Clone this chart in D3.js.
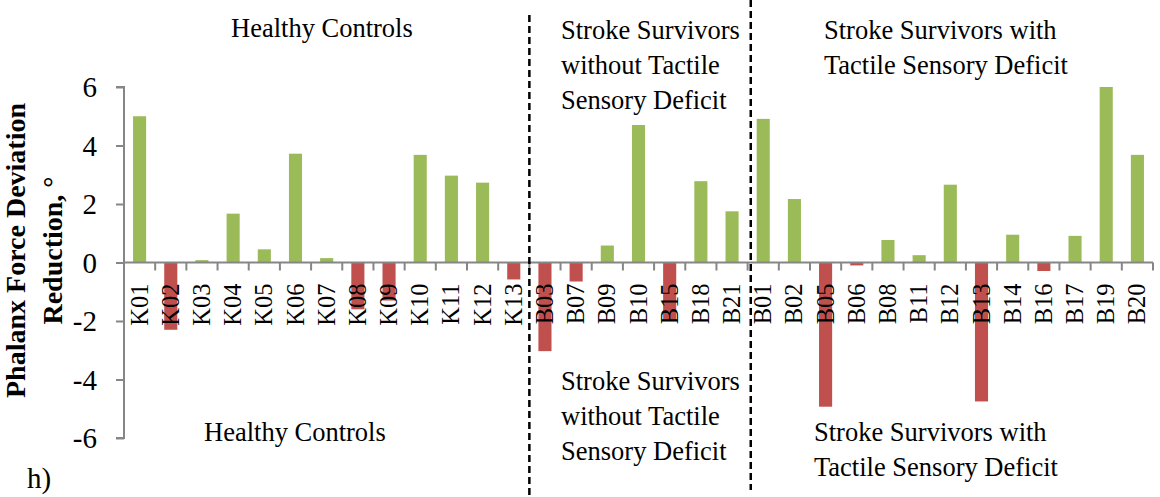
<!DOCTYPE html>
<html>
<head>
<meta charset="utf-8">
<script src="https://cdn.jsdelivr.net/npm/d3@7"></script>
<style>
  body { margin: 0; background: #fff; }
  svg text { font-family: "Liberation Serif", "Times New Roman", serif; }
</style>
</head>
<body>
<div id="chart"></div>
<script>
// participants, in plot order
const subjects = ['K01', 'K02', 'K03', 'K04', 'K05', 'K06', 'K07', 'K08', 'K09', 'K10', 'K11', 'K12', 'K13',
	'B03', 'B07', 'B09', 'B10', 'B15', 'B18', 'B21',
	'B01', 'B02', 'B05', 'B06', 'B08', 'B11', 'B12', 'B13', 'B14', 'B16', 'B17', 'B19', 'B20'];

// phalanx force deviation reduction (degrees)
const reduction = [5.0, -2.3, 0.08, 1.67, 0.45, 3.72, 0.15, -1.6, -1.3, 3.68, 2.97, 2.73, -0.58,
	-3.03, -0.65, 0.58, 4.7, -1.97, 2.78, 1.75,
	4.91, 2.17, -4.93, -0.1, 0.77, 0.25, 2.66, -4.75, 0.95, -0.29, 0.91, 6.0, 3.68];

const yTicks = [-6, -4, -2, 0, 2, 4, 6];

// group dividers, in band units from the left
const dividers = [13, 20.1];

// group captions
const groupTop = [
	{ lines: ['Healthy Controls'], x: 231, y: 37 },
	{ lines: ['Stroke Survivors', 'without Tactile', 'Sensory Deficit'], x: 561, y: 39 },
	{ lines: ['Stroke Survivors with', 'Tactile Sensory Deficit'], x: 824, y: 39 }
];
const groupBottom = [
	{ lines: ['Healthy Controls'], x: 204, y: 441 },
	{ lines: ['Stroke Survivors', 'without Tactile', 'Sensory Deficit'], x: 561, y: 390 },
	{ lines: ['Stroke Survivors with', 'Tactile Sensory Deficit'], x: 814, y: 441 }
];

const W = 1160, H = 497;
const margin = { top: 87, right: 7, bottom: 59, left: 124 };

const svg = d3.select('#chart').append('svg')
	.attr('width', W)
	.attr('height', H);

const x = d3.scaleBand()
	.domain(subjects)
	.range([margin.left, W - margin.right])
	.padding(0);

const y = d3.scaleLinear()
	.domain([-6, 6])
	.range([H - margin.bottom, margin.top]);

const axisColor = '#868686';

// bars
const barW = x.step() * 0.42;
svg.append('g')
	.selectAll('rect')
	.data(subjects)
	.join('rect')
	.attr('x', (d) => x(d) + (x.step() - barW) / 2)
	.attr('width', barW)
	.attr('y', (d, i) => y(Math.max(0, reduction[i])))
	.attr('height', (d, i) => Math.abs(y(reduction[i]) - y(0)))
	.attr('fill', (d, i) => (reduction[i] >= 0 ? '#9BBB59' : '#C0504D'));

// y axis
const yAxis = svg.append('g')
	.attr('transform', `translate(${margin.left},0)`)
	.call(d3.axisLeft(y).tickValues(yTicks).tickSize(8).tickPadding(19).tickFormat(d3.format('d')));
yAxis.select('.domain').attr('stroke', axisColor).attr('stroke-width', 2)
	.attr('d', `M-8,${y(6)}H0V${y(-6)}H-8`);
yAxis.selectAll('.tick line').attr('stroke', axisColor).attr('stroke-width', 2);
yAxis.selectAll('.tick text')
	.attr('font-family', '"Liberation Serif", serif')
	.attr('font-size', 29)
	.attr('fill', '#000')
	.attr('dy', '0.34em')
	.text((d) => (d < 0 ? '-' + Math.abs(d) : d));

// x axis at zero with ticks between categories
const xAxis = svg.append('g').attr('transform', `translate(0,${y(0)})`);
xAxis.append('line')
	.attr('x1', margin.left).attr('x2', W - margin.right)
	.attr('stroke', axisColor).attr('stroke-width', 2);
xAxis.selectAll('line.tk')
	.data(subjects)
	.join('line')
	.attr('class', 'tk')
	.attr('x1', (d) => x(d) + x.step())
	.attr('x2', (d) => x(d) + x.step())
	.attr('y1', 0).attr('y2', 8)
	.attr('stroke', axisColor).attr('stroke-width', 2);
xAxis.selectAll('text')
	.data(subjects)
	.join('text')
	.attr('transform', (d) => `translate(${x(d) + x.step() / 2 + 8},21) rotate(-90)`)
	.attr('text-anchor', 'end')
	.attr('font-size', 24.5)
	.attr('fill', '#000')
	.text((d) => d);

// dashed group dividers
svg.append('g')
	.selectAll('line')
	.data(dividers)
	.join('line')
	.attr('x1', (d) => margin.left + d * x.step())
	.attr('x2', (d) => margin.left + d * x.step())
	.attr('y1', (d, i) => (i === 0 ? 15 : 0))
	.attr('y2', (d, i) => (i === 0 ? H : 490))
	.attr('stroke', '#000')
	.attr('stroke-width', 2.5)
	.attr('stroke-dasharray', '7,4');

// group captions
function captions(list) {
	list.forEach((g) => {
		const t = svg.append('text')
			.attr('x', g.x)
			.attr('y', g.y)
			.attr('font-size', 26.5)
			.attr('fill', '#000');
		g.lines.forEach((l, i) => {
			t.append('tspan').attr('x', g.x).attr('dy', i === 0 ? 0 : 35).text(l);
		});
	});
}
captions(groupTop);
captions(groupBottom);

// y axis title
const titleY = (y(6) + y(-6)) / 2 - 12;
svg.append('text')
	.attr('transform', `translate(25,${titleY}) rotate(-90)`)
	.attr('text-anchor', 'middle')
	.attr('font-weight', 'bold')
	.attr('font-size', 28)
	.attr('fill', '#000')
	.text('Phalanx Force Deviation');
svg.append('text')
	.attr('transform', `translate(62,${titleY}) rotate(-90)`)
	.attr('text-anchor', 'middle')
	.attr('font-weight', 'bold')
	.attr('font-size', 28)
	.attr('fill', '#000')
	.text('Reduction, °');

// panel letter
svg.append('text')
	.attr('x', 27)
	.attr('y', 488)
	.attr('font-size', 29)
	.attr('fill', '#000')
	.text('h)');
</script>
</body>
</html>
